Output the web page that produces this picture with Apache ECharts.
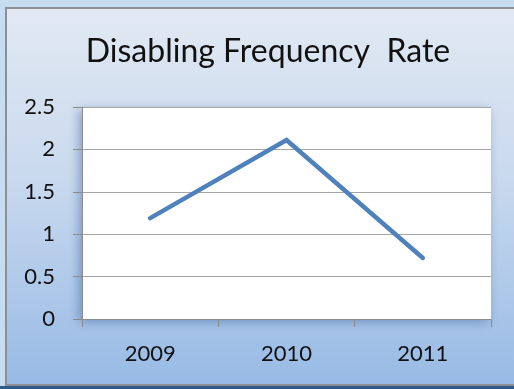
<!DOCTYPE html>
<html>
<head>
<meta charset="utf-8">
<script src="https://cdn.jsdelivr.net/npm/echarts@6/dist/echarts.min.js"></script>
<style>
  html, body { margin: 0; padding: 0; }
  #chart { width: 514px; height: 389px; }
</style>
</head>
<body>
<div id="chart"></div>
<script>
// Chart data
const years = ['2009', '2010', '2011'];
const rates = [1.19, 2.11, 0.72];
const yTicks = { min: 0, max: 2.5, step: 0.5 };
const chartTitle = 'Disabling Frequency  Rate';

const chart = echarts.init(document.getElementById('chart'), null, { renderer: 'canvas' });

const fontFamily = 'Lato, "Open Sans", sans-serif';

chart.setOption({
  backgroundColor: '#c6dcf0',
  animation: false,
  graphic: [
    {
      type: 'rect',
      z: -100,
      shape: { x: 6, y: 8, width: 520, height: 377 },
      style: {
        fill: {
          type: 'linear', x: 0, y: 0, x2: 0, y2: 1,
          colorStops: [
            { offset: 0, color: '#e2e9f3' },
            { offset: 0.45, color: '#c9d9ee' },
            { offset: 1, color: '#97bae5' }
          ]
        },
        stroke: '#8d8f93',
        lineWidth: 2
      }
    },
    {
      type: 'rect',
      z: -100,
      shape: { x: 0, y: 386, width: 514, height: 3 },
      style: { fill: '#2e5b8c' }
    }
  ],
  title: {
    text: chartTitle,
    left: 263,
    top: 31,
    textAlign: 'center',
    textStyle: {
      fontFamily: fontFamily,
      fontSize: 32,
      fontWeight: 'normal',
      color: '#111111'
    }
  },
  grid: {
    show: true,
    left: 82,
    right: 23,
    top: 107,
    bottom: 70,
    backgroundColor: '#ffffff',
    borderWidth: 0,
    shadowBlur: 10,
    shadowColor: 'rgba(40, 80, 140, 0.45)',
    shadowOffsetX: -3,
    shadowOffsetY: 3
  },
  xAxis: {
    type: 'category',
    data: years,
    boundaryGap: true,
    axisLine: { show: true, lineStyle: { color: '#8c8c8c', width: 1 } },
    axisTick: { show: true, length: 8, lineStyle: { color: '#8c8c8c' } },
    axisLabel: {
      margin: 24,
      fontFamily: fontFamily,
      fontSize: 22,
      color: '#111111'
    },
    splitLine: { show: false }
  },
  yAxis: {
    type: 'value',
    min: yTicks.min,
    max: yTicks.max,
    interval: yTicks.step,
    axisLine: { show: true, lineStyle: { color: '#8c8c8c', width: 1 } },
    axisTick: { show: true, length: 9, lineStyle: { color: '#8c8c8c' } },
    axisLabel: {
      margin: 27,
      fontFamily: fontFamily,
      fontSize: 22,
      color: '#111111'
    },
    splitLine: { show: true, lineStyle: { color: '#a6a6a6', width: 1 } }
  },
  series: [
    {
      type: 'line',
      data: rates,
      showSymbol: false,
      symbol: 'none',
      lineStyle: { color: '#4f81bd', width: 4.5, cap: 'round', join: 'miter' }
    }
  ]
});
</script>
</body>
</html>
